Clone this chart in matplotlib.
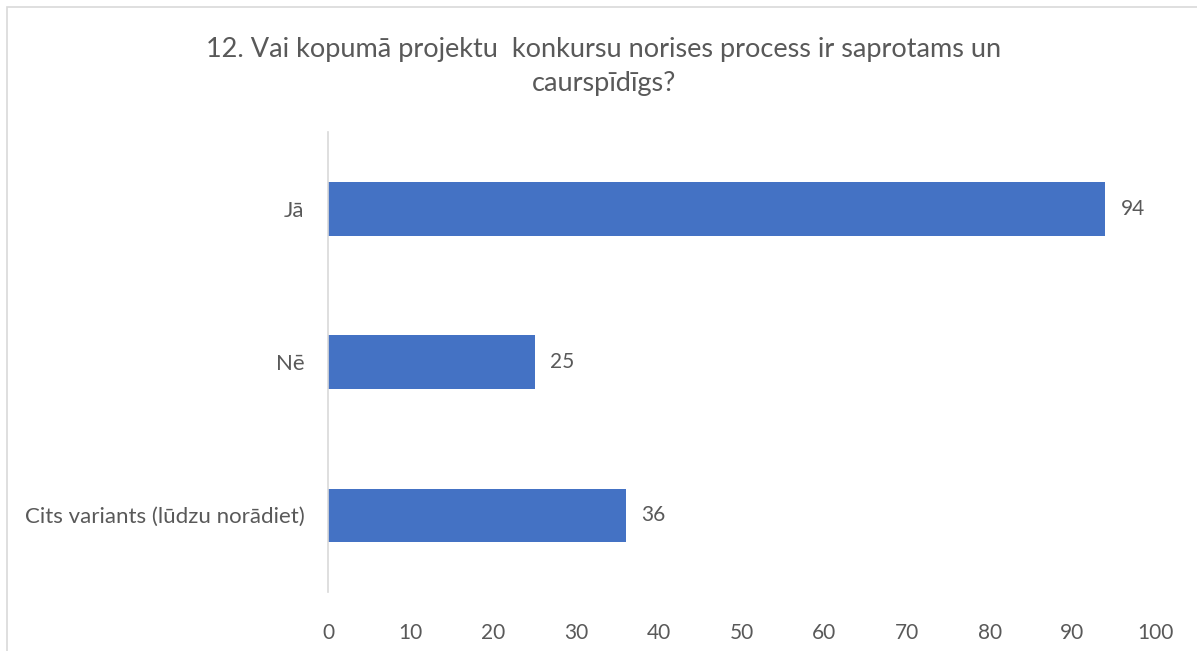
import matplotlib.pyplot as plt
from matplotlib.patches import Rectangle

plt.rcParams['font.family'] = ['Lato', 'DejaVu Sans']

categories = ['Jā', 'Nē', 'Cits variants (lūdzu norādiet)']
values = [94, 25, 36]
xticks = [0, 10, 20, 30, 40, 50, 60, 70, 80, 90, 100]
title = '12. Vai kopumā projektu  konkursu norises process ir saprotams un\ncaurspīdīgs?'

text_col = '#595959'
bar_col = '#4472C4'

fig = plt.figure(figsize=(11.97, 6.51), dpi=100)
W, H = 1197, 651
ax = fig.add_axes([328 / W, 1 - 592 / H, (1155 - 328) / W, (592 - 132) / H])

y = list(range(len(categories)))
ax.barh(y, values, height=0.35, color=bar_col, zorder=2)
for yi, v in zip(y, values):
    ax.annotate(str(v), (v, yi), xytext=(11, 0), textcoords='offset points',
                va='center', ha='left', fontsize=15, color=text_col)

ax.set_xlim(0, 100)
ax.set_ylim(len(categories) - 0.5, -0.5)
ax.set_yticks(y)
ax.set_yticklabels(categories, fontsize=16)
ax.set_xticks(xticks)
ax.tick_params(axis='both', length=0, colors=text_col)
ax.tick_params(axis='x', pad=22, labelsize=15)
ax.tick_params(axis='y', pad=17)
for s in ['top', 'right', 'bottom']:
    ax.spines[s].set_visible(False)
ax.spines['left'].set_color('#D9D9D9')
ax.spines['left'].set_linewidth(1.2)

fig.text(604 / W, 1 - 66 / H, title, ha='center', va='center', fontsize=19.5,
         color=text_col, linespacing=1.45)

# chart border
fig.patches.append(Rectangle((7 / W, -0.1), 1.2, 1 - 7 / H + 0.1,
                             transform=fig.transFigure, fill=False,
                             edgecolor='#D9D9D9', linewidth=1.2))

fig.savefig('out.png', dpi=100)
